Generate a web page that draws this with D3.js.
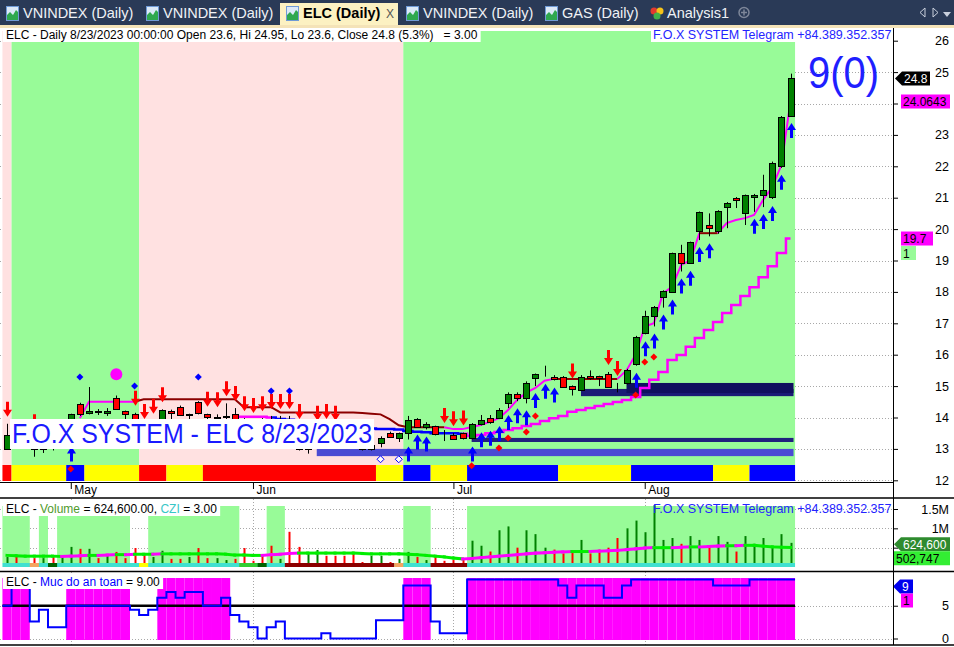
<!DOCTYPE html>
<html>
<head>
<meta charset="utf-8">
<title>ELC (Daily)</title>
<script src="https://cdn.jsdelivr.net/npm/d3@7"></script>
<style>
  html, body { margin: 0; padding: 0; background: #fff; overflow: hidden; }
  svg { display: block; }
</style>
</head>
<body>
<div id="chart"></div>
<script>
// ---------- values ----------
var monthTicks = [["May", 7], ["Jun", 27], ["Jul", 49], ["Aug", 70]];
var priceTicks = [12, 13, 14, 15, 16, 17, 18, 19, 20, 21, 22, 23, 24, 25, 26];

var openP = [13.0,13.45,13.4,13.3,13.0,13.1,13.05,13.35,14.43,14.15,
  14.2,14.15,14.62,14.2,14.12,13.7,13.5,13.55,14.22,14.35,
  14.08,14.5,14.12,14.0,14.02,14.1,13.95,13.8,13.7,13.6,
  13.5,13.6,13.4,13.0,13.1,13.4,13.3,13.2,13.15,13.1,
  13.0,13.19,13.5,13.35,13.5,13.95,13.7,13.72,13.46,13.45,
  13.5,13.35,13.79,14.0,14.0,14.47,14.76,14.63,15.25,15.54,
  15.3,15.3,15.0,14.9,15.33,15.33,15.4,15.06,15.1,15.7,
  16.7,17.24,17.84,18.0,19.24,18.92,19.94,20.13,19.94,20.7,
  21.0,20.51,21.03,21.09,21.03,22.0,23.6];
var highP = [13.8,13.6,13.5,13.4,13.2,13.25,13.4,14.12,14.47,14.97,
  14.27,14.3,14.7,14.22,14.15,13.73,13.9,14.26,14.25,14.38,
  14.12,14.52,14.12,14.1,14.45,14.3,13.98,13.92,13.98,14.05,
  14.05,14.05,13.73,13.3,13.67,13.73,13.67,13.5,13.4,13.3,
  13.3,13.4,13.55,13.52,14.05,13.98,13.85,13.74,13.6,13.5,
  13.52,13.82,14.08,14.08,14.3,14.8,14.8,15.15,15.4,15.65,
  15.35,15.32,15.02,15.35,15.5,15.33,15.45,15.1,15.55,16.6,
  17.4,17.55,18.05,19.25,19.5,19.6,20.56,20.5,20.6,20.86,
  21.02,21.1,21.12,21.73,22.15,23.6,24.95];
var lowP = [12.97,13.3,13.25,12.75,12.87,12.95,13.0,13.3,14.05,14.1,
  14.08,14.05,14.24,13.85,13.6,13.45,13.4,13.5,13.9,14.05,
  13.9,14.1,13.95,13.97,13.95,13.9,13.75,13.6,13.5,13.45,
  13.4,13.35,12.95,12.85,13.05,13.2,13.15,13.05,13.0,12.95,
  12.95,13.05,13.35,13.22,13.3,13.68,13.62,13.43,13.25,13.3,
  13.3,13.3,13.75,13.8,13.95,14.3,14.52,14.45,15.0,15.3,
  15.18,14.95,14.7,14.88,15.2,15.0,14.95,14.8,15.05,15.65,
  16.65,16.9,17.5,17.98,18.65,18.9,19.65,19.77,19.85,20.03,
  20.67,20.13,20.55,20.7,20.96,21.95,23.6];
var closeP = [13.45,13.4,13.3,12.98,13.1,13.05,13.3,14.1,14.1,14.2,
  14.17,14.22,14.27,14.12,13.7,13.5,13.6,14.24,14.16,14.1,
  14.1,14.15,14.02,14.02,14.05,13.95,13.8,13.7,13.6,13.5,
  13.6,13.4,13.0,13.1,13.4,13.3,13.2,13.15,13.1,13.02,
  13.12,13.35,13.38,13.5,13.92,13.7,13.8,13.45,13.45,13.32,
  13.35,13.8,13.92,13.88,14.25,14.76,14.63,15.1,15.37,15.55,
  15.25,14.98,14.9,15.3,15.27,15.27,14.98,15.05,15.51,16.57,
  17.24,17.52,18.03,19.24,18.92,19.59,20.55,20.03,20.58,20.83,
  20.93,21.09,21.09,21.25,22.11,23.57,24.8];

// upper trailing line (magenta / dark red) and lower support line (magenta / blue)
var lineA = [null,null,null,null,null,null,null,null,13.98,14.5,
  14.5,14.5,14.5,14.5,14.5,14.58,14.58,14.58,14.58,14.58,
  14.58,14.58,14.58,14.58,14.58,14.58,14.33,14.33,14.33,14.33,
  14.16,14.16,14.16,14.16,14.16,14.16,14.16,14.16,14.16,14.14,
  14.12,14.1,13.95,13.75,13.69,13.69,13.69,13.69,13.69,13.63,
  13.63,13.7,13.76,13.86,13.98,14.24,14.56,14.79,14.94,15.17,
  15.23,15.23,15.23,15.23,15.23,15.23,15.23,15.23,15.5,16.0,
  16.9,17.0,17.95,18.16,18.86,19.0,19.87,19.87,19.87,20.19,
  20.29,20.35,20.45,20.93,21.34,22.04,24.0643];
var lineARuns = [[8,14,"m"],[15,48,"d"],[49,60,"m"],[61,67,"d"],[68,76,"m"],[77,78,"d"],[79,86,"m"]];
var lineB = [null,null,null,null,null,null,null,null,null,null,
  null,null,null,null,null,null,null,null,null,null,
  null,null,null,null,null,14.02,14.02,14.02,14.02,14.0,
  13.95,13.93,13.9,13.88,13.85,13.82,13.78,13.75,13.72,13.68,
  13.65,13.63,13.63,13.62,13.57,13.55,13.53,13.5,13.5,13.5,
  13.48,13.41,13.44,13.5,13.54,13.6,13.66,13.73,13.79,13.89,
  13.98,14.05,14.18,14.24,14.3,14.37,14.43,14.49,14.56,14.65,
  14.94,15.2,15.45,15.83,15.99,16.25,16.53,16.79,17.04,17.33,
  17.58,17.87,18.15,18.47,18.82,19.24,19.7];
var lineBRuns = [[25,29,"m"],[30,50,"b"],[51,86,"m"]];

var sellArrows = [0,3,14,15,16,17,22,23,24,25,26,27,28,29,30,31,32,34,35,36,48,49,50,62,66,67];
var buyArrows = [7,44,45,46,51,52,53,54,55,56,57,58,59,60,69,70,71,72,73,74,75,76,77,82,83,84,85,86];
var blueDots = [[8,15.29],[14,15.0],[21,15.29],[29,14.84],[31,14.84]];
var hollowDots = [[41,12.67],[43,12.67]];
var redDots = [[7,12.36],[51,12.46],[54,13.03],[55,13.35],[57,13.54],[58,14.05],[69,14.72],[70,15.77],[71,15.93]];
var pinkBall = [12, 15.38];
var zones = [[34,13.0,12.77,"light"],[51,13.35,13.22,"thin"],[63,14.91,14.68,"navy"],[68,15.1,14.78,"deep"]];

var mainBgRuns = [[0,0,"P"],[1,14,"G"],[15,43,"P"],[44,86,"G"]];
var trendRuns = [[0,0,"R"],[1,6,"Y"],[7,8,"B"],[9,14,"Y"],[15,17,"R"],[18,21,"Y"],[22,40,"R"],[41,43,"Y"],
  [44,46,"B"],[47,50,"Y"],[51,60,"B"],[61,68,"Y"],[69,77,"B"],[78,81,"Y"],[82,86,"B"]];

var volume = [260000,260000,100000,230000,230000,260000,260000,520000,470000,470000,
  230000,310000,390000,230000,490000,310000,260000,420000,210000,210000,
  260000,490000,230000,230000,180000,210000,490000,160000,290000,550000,
  210000,910000,520000,390000,440000,290000,290000,290000,390000,130000,
  290000,290000,130000,210000,390000,260000,180000,290000,160000,180000,
  210000,680000,550000,400000,950000,1050000,500000,950000,850000,500000,
  450000,350000,400000,700000,350000,450000,500000,750000,1000000,1200000,
  900000,1600000,700000,750000,600000,800000,700000,550000,800000,650000,
  400000,800000,600000,750000,550000,850000,624600];
var volMA = [300000,290000,280000,280000,280000,280000,270000,280000,290000,300000,
  300000,310000,320000,320000,330000,330000,330000,340000,340000,340000,
  340000,340000,340000,340000,330000,310000,310000,300000,300000,320000,
  330000,350000,360000,360000,360000,360000,360000,360000,360000,350000,
  340000,340000,340000,340000,330000,320000,300000,280000,260000,230000,
  210000,220000,240000,260000,280000,300000,320000,340000,360000,370000,
  380000,390000,400000,400000,400000,410000,420000,430000,450000,470000,
  490000,500000,500000,500000,510000,520000,520000,530000,540000,550000,
  550000,560000,560000,540000,520000,510000,502747];
var volBgRuns = [[0,2],[4,4],[6,13],[16,25],[29,30],[44,46],[51,86]];
var volStripRuns = [[3,3,"O"],[5,5,"D"],[15,15,"Y"],[26,27,"L"],[28,28,"D"],[31,42,"K"],[43,43,"O"],[47,50,"K"]];

var safety = [5,9,9,2.6,4.4,1.7,1.7,5,5,5,
  5,5,5,5,4.4,3.6,4.4,6.2,7.1,6.2,
  7.1,7.1,5,5,6.2,3.6,2.6,1.7,0,1.7,
  2.6,0,0,0,0,0.8,0,0,0,0,
  0,2.8,2.8,2.8,8.1,8.1,8.1,2.6,0.8,0.8,
  0.8,9,9,9,9,9,9,9,9,9,
  9,8.1,6.2,8.1,8.1,8.1,6.2,6.2,8.1,9,
  9,9,9,9,9,9,9,9,8.1,8.1,
  8.1,8.1,9,9,9,9,9];

var tabs = [["VNINDEX (Daily)", 6, "chart"], ["VNINDEX (Daily)", 146, "chart"], ["ELC (Daily)", 286, "chart"],
  ["VNINDEX (Daily)", 406, "chart"], ["GAS (Daily)", 545, "chart"], ["Analysis1", 650, "analysis"]];

// ---------- layout ----------
var svgWidth = 954, svgHeight = 647;
var FONT = "'Liberation Sans', Arial, sans-serif";
var axisX = 893;
var lastX = 790.5;

var svg = d3.select("#chart").append("svg")
  .attr("width", svgWidth).attr("height", svgHeight)
  .attr("font-family", FONT);

var idx = d3.range(openP.length);
var x = d3.scaleLinear().domain([0, idx.length - 1]).range([7, lastX]);
var step = x(1) - x(0);
var yP = d3.scaleLinear().domain([12, 26]).range([480.3, 40.7]);
var yV = d3.scaleLinear().domain([0, 1500000]).range([567, 509]);
var yS = d3.scaleLinear().domain([0, 9]).range([638.5, 579.5]);

var colors = {
  G: "#98fb98", P: "#ffe1e1", R: "#ff0000", Y: "#ffff00", B: "#0000ff",
  m: "#ff00ff", d: "#8b0000", b: "#0000ff",
  light: "#4b4bd3", thin: "#20207e", navy: "#1b1b76", deep: "#10105e",
  C: "#40e0d0", O: "#f4a460", D: "#006400", L: "#32cd32", K: "#8b0000"
};

function runRect(g, a, b, y0, y1, fill) {
  g.append("rect")
    .attr("x", x(a) - step / 2).attr("y", y0)
    .attr("width", x(b) - x(a) + step).attr("height", y1 - y0)
    .attr("fill", fill);
}

function boxedText(g, tx, ty, parts, size, pad, bg, fitWidth) {
  var t = g.append("text").attr("x", tx).attr("y", ty)
    .attr("font-size", size).style("white-space", "pre");
  if (fitWidth) t.attr("textLength", fitWidth).attr("lengthAdjust", "spacingAndGlyphs");
  parts.forEach(function(p) { t.append("tspan").attr("fill", p[1]).text(p[0]); });
  if (bg) {
    var bb = t.node().getBBox();
    g.insert("rect", function() { return t.node(); })
      .attr("x", bb.x - pad).attr("y", bb.y).attr("width", bb.width + 2 * pad).attr("height", bb.height)
      .attr("fill", bg);
  }
  return t;
}

function valueBox(g, cy, label, fill, textFill, x0, x1, pointer) {
  var h = 14;
  var pts = pointer
    ? [[x0, cy], [x0 + 7, cy - h / 2], [x1, cy - h / 2], [x1, cy + h / 2], [x0 + 7, cy + h / 2]]
    : [[x0, cy - h / 2], [x1, cy - h / 2], [x1, cy + h / 2], [x0, cy + h / 2]];
  g.append("polygon").attr("points", pts.join(" ")).attr("fill", fill);
  g.append("text").attr("x", pointer ? x0 + 9 : x0 + 2).attr("y", cy + 4.5)
    .attr("font-size", 12).attr("fill", textFill).text(label);
}

svg.append("rect").attr("width", svgWidth).attr("height", svgHeight).attr("fill", "#fff");

// ---------- tab strip ----------
var tabG = svg.append("g");
tabG.append("rect").attr("width", svgWidth).attr("height", 25).attr("fill", "#2a3a57");
tabG.append("rect").attr("x", 280).attr("y", 3).attr("width", 118).attr("height", 23).attr("fill", "#fcf1c2");
tabG.append("rect").attr("y", 25).attr("width", svgWidth).attr("height", 3).attr("fill", "#f4e3b8");

tabs.forEach(function(t) {
  var ix = t[1];
  var active = t[0] === "ELC (Daily)";
  if (t[2] === "chart") {
    tabG.append("rect").attr("x", ix + 0.5).attr("y", 6.5).attr("width", 12).attr("height", 14)
      .attr("fill", "#dce9f8").attr("stroke", "#6f9ad6");
    tabG.append("path")
      .attr("d", "M" + (ix + 1) + ",20 L" + (ix + 1) + ",15 L" + (ix + 4) + ",12 L" + (ix + 7) + ",15 L" + (ix + 10) + ",10 L" + (ix + 12) + ",12 L" + (ix + 12) + ",20 Z")
      .attr("fill", "#2fa84f");
  } else {
    tabG.append("circle").attr("cx", ix + 4).attr("cy", 11).attr("r", 3.5).attr("fill", "#e23b2e");
    tabG.append("circle").attr("cx", ix + 10).attr("cy", 11).attr("r", 3.5).attr("fill", "#f6c319");
    tabG.append("circle").attr("cx", ix + 7).attr("cy", 16).attr("r", 3.5).attr("fill", "#3fb34a");
  }
  tabG.append("text").attr("x", ix + 17).attr("y", 18)
    .attr("font-size", 14.5).attr("font-weight", active ? "bold" : null)
    .attr("fill", active ? "#000" : "#f0f2f6").text(t[0]);
});
tabG.append("text").attr("x", 386).attr("y", 18).attr("font-size", 12).attr("fill", "#555").text("X");
tabG.append("circle").attr("cx", 744).attr("cy", 12.5).attr("r", 5).attr("fill", "none").attr("stroke", "#7d8699").attr("stroke-width", 1.5);
tabG.append("path").attr("d", "M741,12.5 H747 M744,9.5 V15.5").attr("stroke", "#7d8699").attr("stroke-width", 1.5);
tabG.append("path").attr("d", "M925,8 L920,12.5 L925,17 Z").attr("fill", "none").attr("stroke", "#c9d0dd");
tabG.append("path").attr("d", "M933,8 L938,12.5 L933,17 Z").attr("fill", "none").attr("stroke", "#c9d0dd");
tabG.append("path").attr("d", "M943,12 L951,12 L947,17 Z").attr("fill", "#c9d0dd");

// ---------- main price pane ----------
var mainG = svg.append("g");
mainG.selectAll("line.grid").data(priceTicks).join("line").attr("class", "grid")
  .attr("x1", 0).attr("x2", axisX).attr("y1", function(d) { return Math.round(yP(d)) + 0.5; })
  .attr("y2", function(d) { return Math.round(yP(d)) + 0.5; })
  .attr("stroke", "#a8a8a8").attr("stroke-dasharray", "1,2");

mainBgRuns.forEach(function(r) { runRect(mainG, r[0], r[1], 31, 465, colors[r[2]]); });
trendRuns.forEach(function(r) { runRect(mainG, r[0], r[1], 465, 481, colors[r[2]]); });

zones.forEach(function(z) {
  mainG.append("rect").attr("x", x(z[0])).attr("y", yP(z[1]))
    .attr("width", lastX + 3 - x(z[0])).attr("height", yP(z[2]) - yP(z[1]))
    .attr("fill", colors[z[3]]);
});

function coloredLine(g, values, runs, curve, width) {
  runs.forEach(function(r) {
    var pts = d3.range(Math.max(r[0] - 1, 0), r[1] + 1).filter(function(i) { return values[i] != null; });
    var gen = d3.line().curve(curve).x(function(i) { return x(i); }).y(function(i) { return yP(values[i]); });
    g.append("path").attr("d", gen(pts)).attr("fill", "none")
      .attr("stroke", colors[r[2]]).attr("stroke-width", width);
  });
}
coloredLine(mainG, lineB, lineBRuns, d3.curveStep, 2.5);
coloredLine(mainG, lineA, lineARuns, d3.curveLinear, 2);

// red markers sit under the zone bars
mainG.selectAll("path.rdot").data(redDots).join("path").attr("class", "rdot")
  .attr("transform", function(d) { return "translate(" + x(d[0]) + "," + yP(d[1]) + ")"; })
  .attr("d", "M0,-3.5 L3.5,0 L0,3.5 L-3.5,0 Z").attr("fill", "#ff0000");

// candles
mainG.selectAll("line.wick").data(idx).join("line").attr("class", "wick")
  .attr("x1", function(i) { return Math.round(x(i)) + 0.5; })
  .attr("x2", function(i) { return Math.round(x(i)) + 0.5; })
  .attr("y1", function(i) { return yP(highP[i]); })
  .attr("y2", function(i) { return yP(lowP[i]); })
  .attr("stroke", "#000");
mainG.selectAll("rect.body").data(idx).join("rect").attr("class", "body")
  .attr("x", function(i) { return Math.round(x(i)) - 2.5; })
  .attr("width", 6)
  .attr("y", function(i) { return Math.round(yP(Math.max(openP[i], closeP[i]))) + 0.5; })
  .attr("height", function(i) { return Math.round(Math.abs(yP(openP[i]) - yP(closeP[i]))); })
  .attr("fill", function(i) { return closeP[i] >= openP[i] ? "#008000" : "#ff0000"; })
  .attr("stroke", "#000");

var downArrow = "M0,0 L-4.5,-7 L-1.5,-7 L-1.5,-15 L1.5,-15 L1.5,-7 L4.5,-7 Z";
var upArrow = "M0,0 L-4.5,7 L-1.5,7 L-1.5,15 L1.5,15 L1.5,7 L4.5,7 Z";
mainG.selectAll("path.sell").data(sellArrows).join("path").attr("class", "sell")
  .attr("transform", function(i) { return "translate(" + (Math.round(x(i)) + 0.5) + "," + (yP(highP[i]) - 7) + ")"; })
  .attr("d", downArrow).attr("fill", "#ff0000");
mainG.selectAll("path.buy").data(buyArrows).join("path").attr("class", "buy")
  .attr("transform", function(i) { return "translate(" + (Math.round(x(i)) + 0.5) + "," + (yP(lowP[i]) + 7) + ")"; })
  .attr("d", upArrow).attr("fill", "#0000ff");

mainG.selectAll("path.bdot").data(blueDots).join("path").attr("class", "bdot")
  .attr("transform", function(d) { return "translate(" + x(d[0]) + "," + yP(d[1]) + ")"; })
  .attr("d", "M0,-3.5 L3.5,0 L0,3.5 L-3.5,0 Z").attr("fill", "#0000ff");
mainG.selectAll("path.hdot").data(hollowDots).join("path").attr("class", "hdot")
  .attr("transform", function(d) { return "translate(" + x(d[0]) + "," + yP(d[1]) + ")"; })
  .attr("d", "M0,-3.5 L3.5,0 L0,3.5 L-3.5,0 Z").attr("fill", "#fff").attr("stroke", "#0000ff");
mainG.append("circle").attr("cx", x(pinkBall[0])).attr("cy", yP(pinkBall[1])).attr("r", 6).attr("fill", "#ff00ff");

boxedText(mainG, 12, 443, [["F.O.X SYSTEM - ELC 8/23/2023", "#1a1aff"]], 27, 2, "#fff", 360);
boxedText(mainG, 6, 39, [["ELC - Daily 8/23/2023 00:00:00 Open 23.6, Hi 24.95, Lo 23.6, Close 24.8 (5.3%)   = 3.00", "#000"]], 12, 3, "#fff");
boxedText(mainG, 653, 39, [["F.O.X SYSTEM Telegram +84.389.352.357", "#2424ff"]], 12.5, 2, "#fff");
mainG.append("text").attr("x", 808).attr("y", 88).attr("font-size", 44)
  .attr("textLength", 71).attr("lengthAdjust", "spacingAndGlyphs")
  .attr("fill", "#1f1fff").text("9(0)");

mainG.append("line").attr("x1", 0).attr("x2", axisX).attr("y1", 482.5).attr("y2", 482.5).attr("stroke", "#000");

var axX = svg.append("g").attr("transform", "translate(0,482)")
  .call(d3.axisBottom(x).tickValues(monthTicks.map(function(d) { return d[1]; }))
    .tickFormat(function(d, k) { return monthTicks[k][0]; }).tickSize(7));
axX.select(".domain").remove();
axX.attr("font-family", FONT).attr("font-size", 12);
axX.selectAll("text").attr("text-anchor", "start").attr("x", 3).attr("y", 3).attr("fill", "#000");
axX.selectAll("line").attr("stroke", "#000");

// the 24 label sits under the value box of the trailing line, as in the reference
var axP = svg.append("g").attr("transform", "translate(" + axisX + ",0)")
  .call(d3.axisRight(yP).tickValues(priceTicks).tickSize(5)
    .tickFormat(function(d) { return d === 24 ? "" : d3.format("d")(d); }));
axP.select(".domain").remove();
axP.attr("font-family", FONT).attr("font-size", 12.5);
axP.selectAll("text").attr("x", 56).attr("text-anchor", "end").attr("fill", "#000");
axP.selectAll("line").attr("stroke", "#000");

valueBox(svg, yP(closeP[86]), "24.8", "#000", "#fff", 895, 930, true);
valueBox(svg, yP(lineA[86]), "24.0643", "#ff00ff", "#000", 901, 950, false);
valueBox(svg, yP(lineB[86]), "19.7", "#ff00ff", "#000", 901, 933, false);
valueBox(svg, yP(lineB[86]) + 14.5, "1", "#98fb98", "#000", 901, 916, false);

// ---------- volume pane ----------
var volG = svg.append("g");
[500000, 1000000, 1500000].forEach(function(v) {
  volG.append("line").attr("x1", 0).attr("x2", axisX)
    .attr("y1", Math.round(yV(v)) + 0.5).attr("y2", Math.round(yV(v)) + 0.5)
    .attr("stroke", "#a8a8a8").attr("stroke-dasharray", "1,2");
});
monthTicks.forEach(function(m) {
  volG.append("line").attr("x1", Math.round(x(m[1])) + 0.5).attr("x2", Math.round(x(m[1])) + 0.5)
    .attr("y1", 499).attr("y2", 568).attr("stroke", "#a8a8a8").attr("stroke-dasharray", "1,2");
});
volBgRuns.forEach(function(r) { runRect(volG, r[0], r[1], 506, 563, colors.G); });

volG.selectAll("line.vol").data(idx).join("line").attr("class", "vol")
  .attr("x1", function(i) { return Math.round(x(i)) + 0.5; })
  .attr("x2", function(i) { return Math.round(x(i)) + 0.5; })
  .attr("y1", yV(0)).attr("y2", function(i) { return yV(volume[i]); })
  .attr("stroke", function(i) { return closeP[i] >= openP[i] ? "#008000" : "#ff0000"; })
  .attr("stroke-width", 2);

idx.slice(1).forEach(function(i) {
  volG.append("line").attr("x1", x(i - 1)).attr("x2", x(i))
    .attr("y1", yV(volMA[i - 1])).attr("y2", yV(volMA[i]))
    .attr("stroke", volMA[i] > volMA[i - 1] ? "#ff00ff" : "#00ee00")
    .attr("stroke-width", 3).attr("stroke-linecap", "square");
});

runRect(volG, 0, 86, 563, 567, colors.C);
volStripRuns.forEach(function(r) { runRect(volG, r[0], r[1], 563, 567, colors[r[2]]); });

boxedText(volG, 6, 513, [["ELC - ", "#000"], ["Volume", "#4f9a2c"], [" = 624,600.00, ", "#000"], ["CZI", "#38c6c6"], [" = 3.00", "#000"]], 12, 3, "#fff");
boxedText(volG, 653, 513, [["F.O.X SYSTEM Telegram +84.389.352.357", "#2424ff"]], 12.5, 0, null);

var axV = svg.append("g").attr("transform", "translate(" + axisX + ",0)")
  .call(d3.axisRight(yV).tickValues([500000, 1000000, 1500000]).tickSize(5)
    .tickFormat(function(d) { return d === 1000000 ? "1M" : d === 1500000 ? "1.5M" : ""; }));
axV.select(".domain").remove();
axV.attr("font-family", FONT).attr("font-size", 12.5);
axV.selectAll("text").attr("x", 56).attr("text-anchor", "end").attr("fill", "#000");
axV.selectAll("line").attr("stroke", "#000");
valueBox(svg, yV(volume[86]) + 1.5, "624,600", "#2e8b2e", "#fff", 894, 950, true);
valueBox(svg, yV(volume[86]) + 15.5, "502,747", "#33ee33", "#000", 894, 950, false);

// ---------- safety pane ----------
var safG = svg.append("g");
[0, 5].forEach(function(v) {
  safG.append("line").attr("x1", 0).attr("x2", axisX)
    .attr("y1", Math.round(yS(v)) + 0.5).attr("y2", Math.round(yS(v)) + 0.5)
    .attr("stroke", "#a8a8a8").attr("stroke-dasharray", "1,2");
});
monthTicks.forEach(function(m) {
  safG.append("line").attr("x1", Math.round(x(m[1])) + 0.5).attr("x2", Math.round(x(m[1])) + 0.5)
    .attr("y1", 572).attr("y2", 645).attr("stroke", "#a8a8a8").attr("stroke-dasharray", "1,2");
});
idx.forEach(function(i) {
  if (safety[i] >= 5) runRect(safG, i, i, 578, 640, "#ff00ff");
});
safG.append("line").attr("x1", x(0) - step / 2).attr("x2", lastX + step / 2)
  .attr("y1", yS(5)).attr("y2", yS(5)).attr("stroke", "#000").attr("stroke-width", 2.5);
var stepPts = [];
idx.forEach(function(i) {
  stepPts.push([x(i) - step / 2, safety[i]]);
  stepPts.push([x(i) + step / 2, safety[i]]);
});
safG.append("path")
  .attr("d", d3.line().x(function(d) { return d[0]; }).y(function(d) { return yS(d[1]); })(stepPts))
  .attr("fill", "none").attr("stroke", "#0000ff").attr("stroke-width", 2);
boxedText(safG, 6, 586, [["ELC - ", "#000"], ["Muc do an toan", "#0000ff"], [" = 9.00", "#000"]], 12, 3, "#fff");

var axS = svg.append("g").attr("transform", "translate(" + axisX + ",0)")
  .call(d3.axisRight(yS).tickValues([0, 5]).tickSize(5).tickFormat(d3.format("d")));
axS.select(".domain").remove();
axS.attr("font-family", FONT).attr("font-size", 12.5);
axS.selectAll("text").attr("x", 56).attr("text-anchor", "end").attr("fill", "#000");
axS.selectAll("line").attr("stroke", "#000");
valueBox(svg, Math.max(yS(safety[86]), 579) + 7, "9", "#0000ee", "#fff", 893, 913, true);
valueBox(svg, Math.max(yS(safety[86]), 579) + 21, "1", "#ff00ff", "#000", 901, 913, false);

// ---------- pane frames ----------
svg.append("line").attr("x1", 0).attr("x2", svgWidth).attr("y1", 498).attr("y2", 498).attr("stroke", "#000").attr("stroke-width", 1.5);
svg.append("line").attr("x1", 0).attr("x2", svgWidth).attr("y1", 571.5).attr("y2", 571.5).attr("stroke", "#000").attr("stroke-width", 1.5);
svg.append("line").attr("x1", 0).attr("x2", svgWidth).attr("y1", 645).attr("y2", 645).attr("stroke", "#000").attr("stroke-width", 1.5);
svg.append("line").attr("x1", axisX + 0.5).attr("x2", axisX + 0.5).attr("y1", 28).attr("y2", 645).attr("stroke", "#000");
</script>
</body>
</html>
